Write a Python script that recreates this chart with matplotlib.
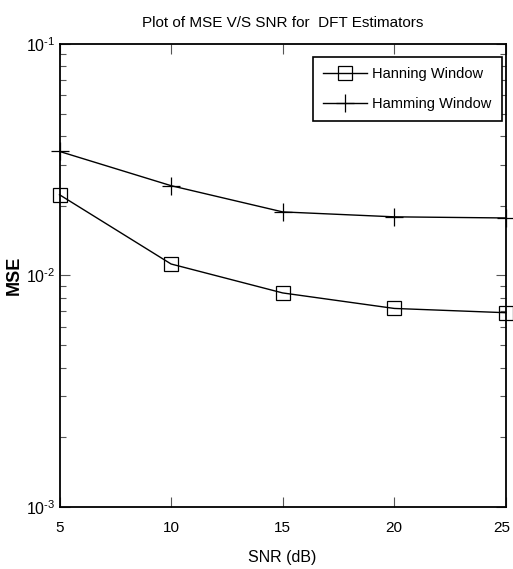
import math
import matplotlib
matplotlib.use("Agg")
import matplotlib.pyplot as plt
from matplotlib.transforms import ScaledTranslation
from matplotlib.ticker import LogLocator, FixedLocator, FuncFormatter, NullFormatter

snr_db = [5, 10, 15, 20, 25]
mse_hanning = [0.0223, 0.0112, 0.0084, 0.0072, 0.0069]
mse_hamming = [0.0343, 0.0244, 0.0188, 0.0179, 0.0177]
series_names = ["Hanning Window", "Hamming Window"]
x_ticks = [5, 10, 15, 20, 25]

plt.rcParams["font.family"] = ["Liberation Sans", "DejaVu Sans"]
plt.rcParams["mathtext.fontset"] = "custom"
plt.rcParams["mathtext.rm"] = "Liberation Sans"
plt.rcParams["mathtext.it"] = "Liberation Sans"
plt.rcParams["mathtext.default"] = "regular"
plt.rcParams["axes.unicode_minus"] = False

fig = plt.figure(figsize=(5.13, 5.69), dpi=100)
ax = fig.add_axes([0.116, 0.109, 0.870, 0.814])

ax.plot(snr_db, mse_hanning, color="black", lw=1.0, marker="s",
        markersize=10, markerfacecolor="none", markeredgecolor="black",
        markeredgewidth=0.9, label=series_names[0], clip_on=False)
ax.plot(snr_db, mse_hamming, color="black", lw=1.0, marker="+",
        markersize=13, markeredgewidth=0.9, label=series_names[1],
        clip_on=False)

ax.set_yscale("log")
ax.set_xlim(5, 25)
ax.set_ylim(1e-3, 1e-1)
ax.xaxis.set_major_locator(FixedLocator(x_ticks))
ax.yaxis.set_major_locator(LogLocator(base=10, numticks=10))
ax.yaxis.set_minor_locator(LogLocator(base=10, subs=range(2, 10), numticks=20))
ax.yaxis.set_minor_formatter(NullFormatter())


def exp_label(v, pos):
    e = int(round(math.log10(v)))
    return r"$10^{\text{%d}}$" % e


ax.yaxis.set_major_formatter(FuncFormatter(exp_label))

ax.tick_params(which="both", direction="in", top=True, right=True,
               labelsize=11.5, width=0.8, color="#555555")
ax.tick_params(axis="x", labelsize=11)
ax.tick_params(which="major", length=7)
ax.tick_params(which="minor", length=4)
ax.tick_params(axis="x", pad=10)
ax.tick_params(axis="y", pad=3)

# keep the last x tick label inside the figure
last = ax.get_xticklabels()[-1]
last.set_transform(last.get_transform()
                   + ScaledTranslation(-4 / 100, 0, fig.dpi_scale_trans))

for s in ax.spines.values():
    s.set_linewidth(1.3)
    s.set_color("black")

ax.set_title("Plot of MSE V/S SNR for  DFT Estimators", fontsize=11, pad=12)
ax.set_xlabel("SNR (dB)", fontsize=11.5, labelpad=11)
ax.set_ylabel("MSE", fontsize=13, fontweight="bold")
ax.yaxis.set_label_coords(-0.082, 0.5)

leg = ax.legend(loc="upper right", bbox_to_anchor=(0.991, 0.972),
                borderaxespad=0, fancybox=False, framealpha=1,
                edgecolor="black", fontsize=10.5, handlelength=3.0,
                handletextpad=0.35, borderpad=0.7, labelspacing=1.1)
leg.get_frame().set_linewidth(1.2)

fig.savefig("out.png", dpi=100)
